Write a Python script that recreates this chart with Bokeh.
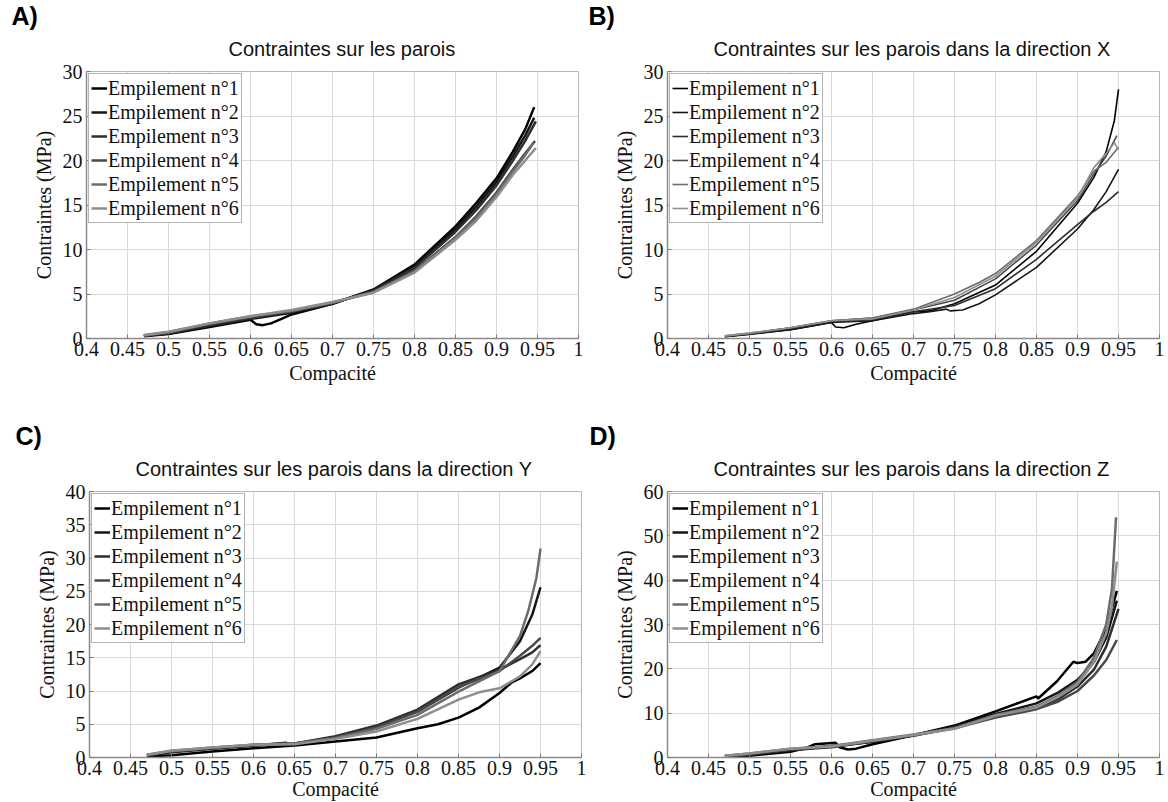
from bokeh.plotting import figure
from bokeh.models import Range1d, FixedTicker, Legend, LegendItem, Title
from bokeh.layouts import column, row
from bokeh.embed import file_html
from bokeh.resources import INLINE

SERIES_NAMES = ["Empilement n°1", "Empilement n°2", "Empilement n°3",
                "Empilement n°4", "Empilement n°5", "Empilement n°6"]
SERIES_COLORS = ["#000000", "#151515", "#2d2d2d", "#494949", "#6c6c6c", "#8e8e8e"]

X_TICKS = [0.4, 0.45, 0.5, 0.55, 0.6, 0.65, 0.7, 0.75, 0.8, 0.85, 0.9, 0.95, 1.0]
X_TICK_LABELS = ["0.4", "0.45", "0.5", "0.55", "0.6", "0.65", "0.7", "0.75",
                 "0.8", "0.85", "0.9", "0.95", "1"]
X_LABEL = "Compacité"
Y_LABEL = "Contraintes (MPa)"

# ---------------- Panel A : Contraintes sur les parois ----------------
A_TITLE = "Contraintes sur les parois"
A_LETTER = "A)"
A_YMAX, A_YSTEP = 30, 5
A1_X = [0.47, 0.5, 0.55, 0.6, 0.607, 0.615, 0.625, 0.64, 0.65, 0.7, 0.75, 0.8, 0.85, 0.875, 0.9, 0.92, 0.935, 0.946]
A1_Y = [0.25, 0.5, 1.3, 2.1, 1.6, 1.5, 1.7, 2.3, 2.7, 3.9, 5.5, 8.3, 12.6, 15.2, 18.0, 21.0, 23.5, 26.0]
A2_X = [0.47, 0.5, 0.55, 0.6, 0.65, 0.7, 0.75, 0.8, 0.85, 0.875, 0.9, 0.92, 0.935, 0.946]
A2_Y = [0.3, 0.55, 1.4, 2.2, 2.9, 3.9, 5.45, 8.1, 12.3, 14.8, 17.6, 20.5, 22.8, 24.8]
A3_X = [0.47, 0.5, 0.55, 0.6, 0.65, 0.7, 0.75, 0.8, 0.85, 0.875, 0.9, 0.92, 0.935, 0.948]
A3_Y = [0.3, 0.6, 1.5, 2.3, 3.0, 4.0, 5.35, 7.9, 12.0, 14.4, 17.2, 20.0, 22.2, 24.4]
A4_X = [0.47, 0.5, 0.55, 0.6, 0.65, 0.7, 0.75, 0.8, 0.85, 0.875, 0.9, 0.92, 0.935, 0.947]
A4_Y = [0.35, 0.7, 1.6, 2.4, 3.1, 4.0, 5.25, 7.6, 11.4, 13.7, 16.4, 19.0, 20.8, 22.2]
A5_X = [0.47, 0.5, 0.55, 0.6, 0.65, 0.7, 0.75, 0.8, 0.85, 0.875, 0.9, 0.92, 0.935, 0.945]
A5_Y = [0.35, 0.7, 1.7, 2.5, 3.1, 4.05, 5.2, 7.5, 11.3, 13.5, 16.2, 18.8, 20.6, 22.0]
A6_X = [0.47, 0.5, 0.55, 0.6, 0.65, 0.7, 0.75, 0.8, 0.85, 0.875, 0.9, 0.92, 0.935, 0.948]
A6_Y = [0.4, 0.75, 1.7, 2.5, 3.2, 4.1, 5.15, 7.4, 11.1, 13.2, 15.9, 18.4, 20.0, 21.4]

# ---------------- Panel B : direction X ----------------
B_TITLE = "Contraintes sur les parois dans la direction X"
B_LETTER = "B)"
B_YMAX, B_YSTEP = 30, 5
B1_X = [0.47, 0.5, 0.55, 0.6, 0.605, 0.615, 0.63, 0.65, 0.7, 0.72, 0.75, 0.8, 0.85, 0.9, 0.92, 0.935, 0.945, 0.95]
B1_Y = [0.2, 0.5, 1.0, 1.8, 1.3, 1.2, 1.6, 2.0, 3.0, 3.1, 3.9, 6.0, 9.8, 15.2, 18.1, 21.0, 24.5, 28.0]
B2_X = [0.47, 0.5, 0.55, 0.6, 0.65, 0.7, 0.72, 0.74, 0.745, 0.76, 0.78, 0.8, 0.85, 0.9, 0.92, 0.935, 0.95]
B2_Y = [0.2, 0.45, 1.0, 1.8, 2.0, 2.8, 3.0, 3.3, 3.1, 3.2, 3.9, 4.9, 8.0, 12.3, 14.5, 16.5, 19.0]
B3_X = [0.47, 0.5, 0.55, 0.6, 0.65, 0.7, 0.75, 0.8, 0.85, 0.9, 0.92, 0.935, 0.95]
B3_Y = [0.25, 0.5, 1.1, 1.9, 2.1, 3.0, 3.7, 5.6, 8.9, 12.8, 14.3, 15.3, 16.5]
B4_X = [0.47, 0.5, 0.55, 0.6, 0.65, 0.7, 0.75, 0.8, 0.85, 0.9, 0.92, 0.935, 0.948]
B4_Y = [0.25, 0.55, 1.2, 2.0, 2.3, 3.2, 4.3, 6.7, 10.5, 15.5, 18.5, 20.5, 22.8]
B5_X = [0.47, 0.5, 0.55, 0.6, 0.65, 0.7, 0.75, 0.78, 0.8, 0.85, 0.9, 0.92, 0.935, 0.95]
B5_Y = [0.3, 0.6, 1.2, 2.0, 2.3, 3.3, 5.0, 6.3, 7.3, 11.0, 16.0, 18.8, 19.8, 21.5]
B6_X = [0.47, 0.5, 0.55, 0.6, 0.65, 0.7, 0.75, 0.8, 0.85, 0.9, 0.92, 0.935, 0.945, 0.95]
B6_Y = [0.3, 0.6, 1.2, 2.0, 2.2, 3.2, 4.6, 7.0, 10.8, 15.8, 19.2, 20.8, 22.0, 21.2]

# ---------------- Panel C : direction Y ----------------
C_TITLE = "Contraintes sur les parois dans la direction Y"
C_LETTER = "C)"
C_YMAX, C_YSTEP = 40, 5
C1_X = [0.47, 0.5, 0.55, 0.6, 0.65, 0.7, 0.75, 0.8, 0.825, 0.85, 0.875, 0.9, 0.915, 0.925, 0.94, 0.95]
C1_Y = [0.2, 0.35, 0.9, 1.4, 1.8, 2.4, 3.0, 4.4, 5.0, 6.0, 7.5, 9.7, 11.3, 11.9, 13.0, 14.2]
C2_X = [0.47, 0.5, 0.55, 0.6, 0.64, 0.645, 0.65, 0.7, 0.75, 0.8, 0.85, 0.9, 0.925, 0.94, 0.95]
C2_Y = [0.3, 0.8, 1.3, 1.8, 2.2, 1.8, 2.0, 3.0, 4.6, 6.9, 10.5, 13.5, 17.5, 21.5, 25.6]
C3_X = [0.47, 0.5, 0.55, 0.6, 0.65, 0.7, 0.75, 0.8, 0.85, 0.9, 0.925, 0.94, 0.95]
C3_Y = [0.35, 0.9, 1.4, 1.8, 2.1, 3.2, 4.8, 7.2, 11.0, 13.2, 14.8, 15.8, 16.9]
C4_X = [0.47, 0.5, 0.55, 0.6, 0.65, 0.7, 0.75, 0.8, 0.85, 0.9, 0.925, 0.94, 0.95]
C4_Y = [0.35, 0.9, 1.4, 1.9, 2.1, 3.0, 4.5, 6.9, 10.6, 13.0, 15.3, 16.8, 18.0]
C5_X = [0.47, 0.5, 0.55, 0.6, 0.65, 0.7, 0.75, 0.8, 0.85, 0.9, 0.925, 0.935, 0.945, 0.95]
C5_Y = [0.4, 1.0, 1.5, 1.9, 2.1, 2.9, 4.3, 6.4, 9.9, 13.0, 18.3, 22.0, 27.0, 31.4]
C6_X = [0.47, 0.5, 0.55, 0.6, 0.65, 0.7, 0.75, 0.8, 0.85, 0.875, 0.9, 0.925, 0.94, 0.95]
C6_Y = [0.4, 1.0, 1.5, 1.9, 2.0, 2.8, 3.9, 5.8, 8.7, 9.8, 10.4, 12.2, 14.0, 16.0]

# ---------------- Panel D : direction Z ----------------
D_TITLE = "Contraintes sur les parois dans la direction Z"
D_LETTER = "D)"
D_YMAX, D_YSTEP = 60, 10
D1_X = [0.47, 0.5, 0.55, 0.57, 0.58, 0.605, 0.61, 0.62, 0.63, 0.65, 0.7, 0.75, 0.8, 0.85, 0.852, 0.875, 0.895, 0.9, 0.91, 0.92, 0.935, 0.948]
D1_Y = [0.2, 0.4, 1.3, 2.2, 3.0, 3.3, 2.3, 1.8, 2.0, 3.0, 5.0, 7.2, 10.4, 13.8, 13.3, 17.2, 21.6, 21.3, 21.6, 23.5, 29.0, 37.6]
D2_X = [0.47, 0.5, 0.55, 0.6, 0.65, 0.7, 0.75, 0.8, 0.85, 0.875, 0.9, 0.92, 0.935, 0.948]
D2_Y = [0.3, 0.6, 1.6, 2.6, 3.5, 5.0, 7.0, 9.8, 12.2, 14.5, 17.5, 21.5, 27.0, 35.4]
D3_X = [0.47, 0.5, 0.55, 0.6, 0.65, 0.7, 0.75, 0.8, 0.85, 0.875, 0.9, 0.92, 0.935, 0.95]
D3_Y = [0.3, 0.7, 1.7, 2.3, 3.6, 4.9, 6.7, 9.3, 11.2, 13.0, 16.0, 19.8, 25.0, 33.5]
D4_X = [0.47, 0.5, 0.55, 0.6, 0.65, 0.7, 0.75, 0.8, 0.85, 0.875, 0.9, 0.92, 0.935, 0.948]
D4_Y = [0.35, 0.8, 1.8, 2.5, 3.7, 5.0, 6.6, 9.0, 10.9, 12.5, 15.0, 18.5, 22.0, 26.5]
D5_X = [0.47, 0.5, 0.55, 0.6, 0.65, 0.7, 0.75, 0.8, 0.85, 0.875, 0.9, 0.92, 0.935, 0.942, 0.947]
D5_Y = [0.4, 0.9, 2.0, 2.6, 3.9, 5.2, 6.6, 9.6, 11.5, 13.8, 17.0, 22.5, 30.0, 38.0, 54.2]
D6_X = [0.47, 0.5, 0.55, 0.6, 0.65, 0.7, 0.75, 0.8, 0.85, 0.875, 0.9, 0.92, 0.935, 0.942, 0.948]
D6_Y = [0.4, 0.9, 2.0, 2.5, 3.8, 5.1, 6.5, 9.4, 11.3, 13.5, 16.5, 21.5, 28.0, 34.0, 44.2]


def make_panel(title, letter, ymax, ystep, xs, ys, width, height,
               bl, br, bt, bb, lw, title_offset, letter_offset, xlabel_standoff):
    p = figure(width=width, height=height, output_backend="svg", toolbar_location=None,
               x_range=Range1d(0.4, 1.0), y_range=Range1d(0, ymax),
               min_border_left=bl, min_border_right=br, min_border_top=bt, min_border_bottom=bb,
               background_fill_color="white", border_fill_color="white")
    p.outline_line_color = "#b5b5b5"
    p.outline_line_width = 1

    renderers = []
    for i in range(6):
        r = p.line(xs[i], ys[i], line_color=SERIES_COLORS[i], line_width=lw)
        renderers.append(r)

    # axes
    p.xaxis.ticker = FixedTicker(ticks=X_TICKS)
    p.xaxis.major_label_overrides = {t: s for t, s in zip(X_TICKS, X_TICK_LABELS)}
    p.yaxis.ticker = FixedTicker(ticks=list(range(0, ymax + 1, ystep)))
    for ax in (p.xaxis[0], p.yaxis[0]):
        ax.major_label_text_font = "Liberation Serif"
        ax.major_label_text_font_size = "20px"
        ax.major_label_text_color = "#111111"
        ax.major_tick_in = 4
        ax.major_tick_out = 0
        ax.major_tick_line_color = "#7a7a7a"
        ax.minor_tick_line_color = None
        ax.axis_line_color = "#8a8a8a"
        ax.axis_line_width = 1.5
        ax.axis_label_text_font = "Liberation Serif"
        ax.axis_label_text_font_size = "20px"
        ax.axis_label_text_font_style = "normal"
        ax.axis_label_text_color = "#111111"
    p.xaxis.major_label_standoff = 3
    p.xaxis.axis_label = X_LABEL
    p.xaxis.axis_label_standoff = xlabel_standoff
    p.yaxis.major_label_standoff = 4
    p.yaxis.axis_label = Y_LABEL
    p.yaxis.axis_label_standoff = 5

    p.xgrid.grid_line_color = "#d9d9d9"
    p.ygrid.grid_line_color = "#d9d9d9"

    legend = Legend(items=[LegendItem(label=SERIES_NAMES[i], renderers=[renderers[i]]) for i in range(6)],
                    location="top_left")
    legend.label_text_font = "Liberation Serif"
    legend.label_text_font_size = "20px"
    legend.label_text_color = "#111111"
    legend.glyph_width = 16
    legend.glyph_height = 22
    legend.label_height = 24
    legend.label_standoff = 1
    legend.padding = 2
    legend.spacing = 0
    legend.margin = 2
    legend.border_line_color = "#6a6a6a"
    legend.border_line_width = 1
    legend.background_fill_color = "white"
    legend.background_fill_alpha = 1.0
    p.add_layout(legend)

    # outermost title: panel letter ; inner title: chart title
    p.title = Title(text=letter, align="left", offset=letter_offset,
                    text_font="Liberation Sans", text_font_size="25px",
                    text_font_style="bold", text_color="#000000", standoff=-12)
    p.add_layout(Title(text=title, align="left", offset=title_offset,
                       text_font="Liberation Sans", text_font_size="20px",
                       text_font_style="normal", text_color="#111111", standoff=24), "above")
    return p


pA = make_panel(A_TITLE, A_LETTER, A_YMAX, A_YSTEP,
                [A1_X, A2_X, A3_X, A4_X, A5_X, A6_X], [A1_Y, A2_Y, A3_Y, A4_Y, A5_Y, A6_Y],
                588, 400, 86, 10, 71, 62, 2.5, 142, -75, 3)
pB = make_panel(B_TITLE, B_LETTER, B_YMAX, B_YSTEP,
                [B1_X, B2_X, B3_X, B4_X, B5_X, B6_X], [B1_Y, B2_Y, B3_Y, B4_Y, B5_Y, B6_Y],
                580, 400, 79, 9, 71, 62, 1.6, 46, -79, 3)
pC = make_panel(C_TITLE, C_LETTER, C_YMAX, C_YSTEP,
                [C1_X, C2_X, C3_X, C4_X, C5_X, C6_X], [C1_Y, C2_Y, C3_Y, C4_Y, C5_Y, C6_Y],
                588, 402, 89, 7, 91, 44, 2.5, 46, -74, 0)
pD = make_panel(D_TITLE, D_LETTER, D_YMAX, D_YSTEP,
                [D1_X, D2_X, D3_X, D4_X, D5_X, D6_X], [D1_Y, D2_Y, D3_Y, D4_Y, D5_Y, D6_Y],
                580, 402, 79, 9, 91, 44, 2.5, 46, -78, 0)

layout = column(row(pA, pB, spacing=0), row(pC, pD, spacing=0), spacing=0)

with open("out.html", "w") as f:
    f.write(file_html(layout, INLINE))
